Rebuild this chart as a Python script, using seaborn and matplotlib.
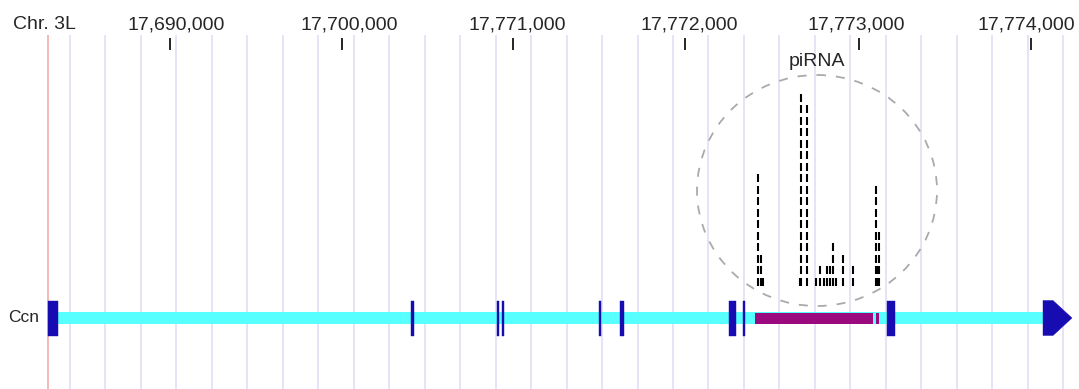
import pandas as pd
import matplotlib
matplotlib.use('Agg')
from matplotlib import pyplot as plt
from matplotlib.patches import Rectangle, Polygon, Ellipse
import seaborn as sns

# genome browser track, x in track (screen) units, y in track units (top = 0)
chrom_label = 'Chr. 3L'
tick_labels = ['17,690,000', '17,700,000', '17,771,000', '17,772,000', '17,773,000', '17,774,000']
tick_pos = [170, 342, 513, 685, 858.7, 1030.5]
label_pos = [176.5, 349.5, 517.5, 689, 856, 1026]

grid_start = 70
grid_step = 35.47
grid_n = 29
origin_line = 48

gene_name = 'Ccn'
intron_span = (57, 1043)
exon_starts = [47.7, 411, 496.7, 501.7, 598.7, 619.7, 729.3, 742.7, 887.3]
exon_ends = [57.7, 414, 498.7, 504.3, 600.7, 624.3, 735.7, 745.3, 895]
arrow_start = 1043
arrow_tip = 1072
cds_starts = [754.7, 875.7]
cds_ends = [873.3, 879]

# piRNA reads: column position and number of stacked reads
pirna_pos = [757.5, 760.5, 762.5, 799.5, 801, 806.7, 816, 820, 824, 827, 830, 833, 836, 843, 853, 876, 877, 878.5]
pirna_count = [10, 3, 1, 1, 17, 16, 1, 2, 1, 2, 2, 4, 1, 3, 2, 9, 2, 5]

blue = '#170bb2'
cyan = '#58ffff'
magenta = '#9a0a7e'
grid_col = '#dcdcf4'

sns.set_style('white')
plt.rcParams['font.family'] = ['Liberation Sans', 'DejaVu Sans']

fig = plt.figure(figsize=(10.79, 3.89), dpi=100)
ax = fig.add_axes([0, 0, 1, 1])
ax.set_xlim(0, 1079)
ax.set_ylim(389, 0)
ax.axis('off')

# grid
grid_x = [grid_start + i * grid_step for i in range(grid_n)]
ax.vlines(grid_x, 35, 389, color=grid_col, lw=1.1, zorder=0)
ax.vlines([origin_line], 35, 389, color='#f2a4a4', lw=1.1, zorder=0)

# axis ticks and labels
ax.text(44, 29, chrom_label, ha='center', va='baseline', fontsize=14)
for lab, lx in zip(tick_labels, label_pos):
    ax.text(lx, 29, lab, ha='center', va='baseline', fontsize=14)
ax.vlines(tick_pos, 38, 50, color='black', lw=1.2)

# gene model
yc = 318
ax.add_patch(Rectangle((intron_span[0], yc - 6), intron_span[1] - intron_span[0], 12,
                       color=cyan, lw=0, zorder=2))
for s, e in zip(exon_starts, exon_ends):
    ax.add_patch(Rectangle((s, yc - 17.5), e - s, 35, facecolor=blue, edgecolor=blue, lw=0.3, zorder=3))
for s, e in zip(cds_starts, cds_ends):
    ax.add_patch(Rectangle((s, yc - 5.5), e - s, 11, color=magenta, lw=0, zorder=3))
ax.add_patch(Polygon([(arrow_start, yc - 17.5), (arrow_start + 10, yc - 17.5), (arrow_tip, yc),
                      (arrow_start + 10, yc + 17.5), (arrow_start, yc + 17.5)],
                     closed=True, facecolor=blue, edgecolor=blue, lw=0.3, zorder=3))
ax.text(39, yc, gene_name, ha='right', va='center', fontsize=12.5)

# piRNA reads
base = 286
step = 11.5
dash = 8.3
rows = []
for p, n in zip(pirna_pos, pirna_count):
    for k in range(n):
        rows.append({'pos': p, 'y': base - dash / 2 - k * step})
reads = pd.DataFrame(rows)
sns.scatterplot(data=reads, x='pos', y='y', marker='|', s=36, color='black',
                linewidth=1.5, ax=ax, legend=False, zorder=4)
ax.set_xlim(0, 1079)
ax.set_ylim(389, 0)

ax.add_patch(Ellipse((817, 190.5), 240, 231, fill=False, edgecolor='#aaaaaa',
                     lw=1.3, ls=(0, (5, 5.5)), zorder=4))
ax.text(817, 66, 'piRNA', ha='center', va='baseline', fontsize=14)

plt.savefig('out.png', dpi=100)
plt.close()
